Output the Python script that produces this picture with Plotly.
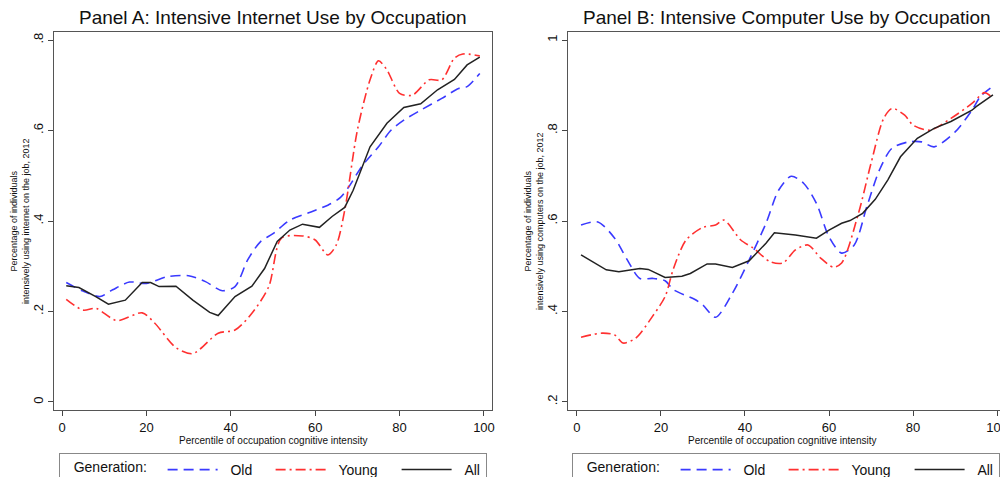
import plotly.graph_objects as go

# ---------------- Data ----------------
# Panel A: intensive internet use
old_a_x = [1, 5, 9, 12, 16, 20, 25, 30, 34, 38, 41, 44, 47, 50, 54, 59, 63, 66, 68, 71, 75, 78, 81, 85, 90, 94, 96, 99]
old_a_y = [0.264, 0.245, 0.233, 0.248, 0.265, 0.262, 0.277, 0.279, 0.266, 0.246, 0.255, 0.314, 0.354, 0.372,
           0.402, 0.420, 0.435, 0.452, 0.476, 0.520, 0.564, 0.601, 0.623, 0.645, 0.671, 0.693, 0.697, 0.726]

young_a_x = [1, 5, 8, 13, 19, 22, 27, 31, 37, 41, 45, 49, 52, 57, 60, 63, 65, 67, 70, 73, 75, 77, 80, 83, 87, 90, 93, 95, 99]
young_a_y = [0.227, 0.203, 0.207, 0.180, 0.197, 0.174, 0.120, 0.107, 0.152, 0.159, 0.196, 0.255, 0.362, 0.367,
             0.358, 0.325, 0.347, 0.424, 0.601, 0.712, 0.754, 0.734, 0.682, 0.678, 0.712, 0.712, 0.760, 0.769, 0.765]

all_a_x = [1, 4, 8, 11, 15, 19, 21, 23, 27, 31, 35, 37, 41, 45, 48, 51, 54, 57, 61, 64, 67, 69, 73, 77, 81, 85, 89, 93, 96, 99]
all_a_y = [0.257, 0.253, 0.233, 0.216, 0.225, 0.264, 0.264, 0.255, 0.256, 0.225, 0.198, 0.191, 0.233, 0.256, 0.295,
           0.355, 0.380, 0.393, 0.386, 0.410, 0.430, 0.468, 0.564, 0.616, 0.651, 0.659, 0.690, 0.713, 0.745, 0.762]

# Panel B: intensive computer use
old_b_x = [1, 5, 9, 12, 15, 18, 21, 23, 28, 30, 33, 37, 41, 45, 48, 51, 54, 57, 60, 63, 66, 69, 72, 75, 79, 82, 85, 90, 94, 96, 99]
old_b_y = [0.591, 0.598, 0.562, 0.514, 0.473, 0.473, 0.468, 0.448, 0.427, 0.414, 0.387, 0.440, 0.514, 0.595, 0.668, 0.699,
           0.683, 0.639, 0.565, 0.529, 0.547, 0.632, 0.713, 0.761, 0.775, 0.775, 0.764, 0.797, 0.845, 0.875, 0.898]

young_b_x = [1, 6, 9, 11, 14, 18, 21, 23, 26, 30, 33, 35, 39, 42, 46, 49, 52, 55, 58, 61, 63, 67, 70, 73, 75, 78, 80, 84, 89, 94, 97, 99]
young_b_y = [0.343, 0.352, 0.348, 0.330, 0.341, 0.389, 0.433, 0.495, 0.558, 0.586, 0.591, 0.602, 0.558, 0.540, 0.510, 0.507,
             0.536, 0.547, 0.518, 0.498, 0.507, 0.617, 0.728, 0.827, 0.849, 0.834, 0.812, 0.801, 0.827, 0.860, 0.884, 0.871]

all_b_x = [1, 3, 7, 10, 15, 17, 21, 25, 27, 31, 33, 37, 41, 45, 47, 52, 57, 60, 63, 65, 68, 71, 74, 77, 81, 85, 89, 94, 95, 99]
all_b_y = [0.525, 0.514, 0.492, 0.488, 0.495, 0.493, 0.475, 0.478, 0.484, 0.505, 0.505, 0.497, 0.512, 0.551, 0.574,
           0.569, 0.562, 0.580, 0.595, 0.601, 0.617, 0.648, 0.691, 0.742, 0.783, 0.805, 0.820, 0.845, 0.853, 0.879]

x_ticks = [0, 20, 40, 60, 80, 100]
x_ticklabels = ["0", "20", "40", "60", "80", "100"]
ya_ticks = [0, 0.2, 0.4, 0.6, 0.8]
ya_ticklabels = ["0", ".2", ".4", ".6", ".8"]
yb_ticks = [0.2, 0.4, 0.6, 0.8, 1.0]
yb_ticklabels = [".2", ".4", ".6", ".8", "1"]

series_names = ["Old", "Young", "All"]
title_a = "Panel A: Intensive Internet Use by Occupation"
title_b = "Panel B: Intensive Computer Use by Occupation"
ytitle_a = "Percentage of individuals<br>intensively using internet on the job, 2012"
ytitle_b = "Percentage of individuals<br>intensively using computers on the job, 2012"
xtitle = "Percentile of occupation cognitive intensity"
legend_title = "Generation:"

# ---------------- Styles ----------------
FONT = "Liberation Sans, Arial, sans-serif"
BLUE = "#3a3aff"
RED = "#ff3030"
BLACK = "#222222"
OFF = 8                      # page body margin of the browser
W, H = 1008 - OFF, 477 - OFF

styles = {
    "Old": dict(color=BLUE, width=1.6, dash="10px,6px", shape="spline", lw=43),
    "Young": dict(color=RED, width=1.6, dash="10px,4px,2px,4px", shape="spline", lw=61),
    "All": dict(color=BLACK, width=1.5, dash="solid", shape="linear", lw=24),
}

fig = go.Figure()

panels = [
    ("x", "y", "legend", [(old_a_x, old_a_y), (young_a_x, young_a_y), (all_a_x, all_a_y)]),
    ("x2", "y2", "legend2", [(old_b_x, old_b_y), (young_b_x, young_b_y), (all_b_x, all_b_y)]),
]
for xa, ya, leg, data in panels:
    for name, (xs, ys) in zip(series_names, data):
        st = styles[name]
        fig.add_trace(go.Scatter(
            x=xs, y=ys, mode="lines", name="\u00a0\u00a0" + name, xaxis=xa, yaxis=ya, legend=leg,
            legendwidth=st["lw"],
            line=dict(color=st["color"], width=st["width"], dash=st["dash"], shape=st["shape"], smoothing=0.8),
            hoverinfo="skip",
        ))

# pixel (screen) positions -> paper fractions
def px_x(p):
    return (p - OFF) / W

def px_y(p):
    return 1 - (p - OFF) / H

dom_y = [px_y(410), px_y(32)]
axis_common = dict(
    showgrid=False, zeroline=False, showline=True, linecolor="#555555", linewidth=1.2,
    mirror=True, ticks="outside", ticklen=5, tickcolor="#444444",
    tickfont=dict(family=FONT, size=13, color="#111111"),
    ticklabeloverflow="allow",
)

fig.update_layout(
    width=W, height=H,
    margin=dict(l=0, r=0, t=0, b=0, autoexpand=False),
    paper_bgcolor="white", plot_bgcolor="white",
    font=dict(family=FONT, color="#111111"),
    xaxis=dict(domain=[px_x(54), px_x(492)], range=[-1.9, 101.9], anchor="y",
               tickvals=x_ticks, ticktext=x_ticklabels, **axis_common),
    yaxis=dict(domain=dom_y, range=[-0.0177, 0.8177], anchor="x",
               tickvals=ya_ticks, ticktext=ya_ticklabels, tickangle=-90, **axis_common),
    xaxis2=dict(domain=[px_x(568), px_x(1006)], range=[-2.1, 102.1], anchor="y2",
                tickvals=x_ticks, ticktext=x_ticklabels, **axis_common),
    yaxis2=dict(domain=dom_y, range=[0.182, 1.018], anchor="x2",
                tickvals=yb_ticks, ticktext=yb_ticklabels, tickangle=-90, **axis_common),
    showlegend=True,
)

legend_common = dict(
    orientation="h", yanchor="top", xanchor="left", y=px_y(453),
    xref="container", yref="container",
    bordercolor="#888888", borderwidth=1, bgcolor="white",
    font=dict(family=FONT, size=14, color="#111111"),
    title=dict(text="&nbsp;&nbsp;&nbsp;" + legend_title + "&nbsp;&nbsp;",
               font=dict(family=FONT, size=14, color="#111111"), side="left"),
    itemwidth=50,
)
fig.update_layout(
    legend=dict(x=px_x(59), **legend_common),
    legend2=dict(x=px_x(572), **legend_common),
)

# Titles and axis titles as annotations
annos = []
for cx, title in [(273, title_a), (787, title_b)]:
    annos.append(dict(text=title, x=px_x(cx), y=px_y(18), xref="paper", yref="paper",
                      showarrow=False, font=dict(family=FONT, size=19, color="#111111"),
                      xanchor="center", yanchor="middle"))
for cx, ytitle in [(20, ytitle_a), (534, ytitle_b)]:
    annos.append(dict(text=ytitle, x=px_x(cx), y=px_y(221), xref="paper", yref="paper",
                      showarrow=False, textangle=-90, font=dict(family=FONT, size=9, color="#111111"),
                      xanchor="center", yanchor="middle"))
for cx in [273, 782]:
    annos.append(dict(text=xtitle, x=px_x(cx), y=px_y(440), xref="paper", yref="paper",
                      showarrow=False, font=dict(family=FONT, size=10, color="#111111"),
                      xanchor="center", yanchor="middle"))
fig.update_layout(annotations=annos)

fig.write_html("out.html")
